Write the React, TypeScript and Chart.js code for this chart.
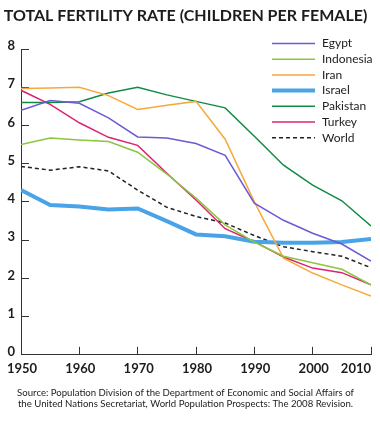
import { useEffect, useRef } from "react";
import { Chart, registerables } from "chart.js";

Chart.register(...registerables);

const years = [1950, 1955, 1960, 1965, 1970, 1975, 1980, 1985, 1990, 1995, 2000, 2005, 2010];
const xTickYears = [1950, 1960, 1970, 1980, 1990, 2000, 2010];

const egypt = [6.4, 6.65, 6.58, 6.2, 5.7, 5.67, 5.53, 5.22, 3.97, 3.52, 3.18, 2.9, 2.45];
const indonesia = [5.5, 5.67, 5.62, 5.58, 5.3, 4.73, 4.1, 3.4, 2.95, 2.58, 2.41, 2.24, 1.83];
const iran = [6.97, 6.98, 7.0, 6.78, 6.42, 6.53, 6.63, 5.64, 4.0, 2.53, 2.14, 1.83, 1.54];
const israel = [4.31, 3.92, 3.88, 3.8, 3.83, 3.5, 3.15, 3.1, 2.96, 2.93, 2.93, 2.95, 3.03];
const pakistan = [6.6, 6.6, 6.62, 6.85, 7.0, 6.8, 6.63, 6.46, 5.72, 4.96, 4.44, 4.03, 3.37];
const turkey = [6.92, 6.55, 6.07, 5.69, 5.48, 4.75, 4.05, 3.3, 2.96, 2.56, 2.27, 2.15, 1.83];
const world = [4.93, 4.83, 4.92, 4.81, 4.31, 3.86, 3.62, 3.45, 3.12, 2.83, 2.7, 2.58, 2.28];

const titleText = "TOTAL FERTILITY RATE (CHILDREN PER FEMALE)";
const sourceLines = [
  "Source: Population Division of the Department of Economic and Social Affairs of",
  "the United Nations Secretariat, World Population Prospects: The 2008 Revision.",
];

const FONT = "Lato, 'Open Sans', sans-serif";
const INK = "#1c1c1c";

export default function App() {
  const ref = useRef<HTMLCanvasElement>(null);

  useEffect(() => {
    if (!ref.current) return;
    const series = [
      { label: "Egypt", values: egypt, color: "#6a5ad3", width: 1.5, dash: [] as number[] },
      { label: "Indonesia", values: indonesia, color: "#8cc53f", width: 1.5, dash: [] },
      { label: "Iran", values: iran, color: "#f6a93b", width: 1.5, dash: [] },
      { label: "Israel", values: israel, color: "#48a4e6", width: 4, dash: [] },
      { label: "Pakistan", values: pakistan, color: "#0f8b45", width: 1.5, dash: [] },
      { label: "Turkey", values: turkey, color: "#dc2372", width: 1.5, dash: [] },
      { label: "World", values: world, color: "#222222", width: 1.5, dash: [4, 3] },
    ];

    const insetLegend = {
      id: "insetLegend",
      afterDraw(chart: any) {
        const ctx = chart.ctx;
        const x0 = 272, x1 = 315, tx = 322, y0 = 43.5, dy = 15.7;
        ctx.save();
        chart.data.datasets.forEach((ds: any, i: number) => {
          const y = y0 + i * dy;
          ctx.beginPath();
          ctx.strokeStyle = ds.borderColor;
          ctx.lineWidth = ds.borderWidth;
          ctx.setLineDash(ds.borderDash || []);
          ctx.moveTo(x0, y);
          ctx.lineTo(x1, y);
          ctx.stroke();
          ctx.setLineDash([]);
          ctx.fillStyle = INK;
          ctx.font = `12px ${FONT}`;
          ctx.textAlign = "left";
          ctx.textBaseline = "middle";
          ctx.fillText(ds.label, tx, y);
        });
        ctx.restore();
      },
    };

    const xLabels = {
      id: "xLabels",
      afterDraw(chart: any) {
        const sx = chart.scales.x;
        const ctx = chart.ctx;
        ctx.save();
        ctx.font = `bold 13px ${FONT}`;
        ctx.fillStyle = INK;
        ctx.textBaseline = "middle";
        xTickYears.forEach((yr, i) => {
          const px = sx.getPixelForValue(yr);
          const last = i === xTickYears.length - 1;
          ctx.textAlign = last ? "right" : "center";
          ctx.fillText(String(yr), last ? px : px + 1, sx.top + 14);
        });
        ctx.restore();
      },
    };

    const axisGrid = {
      display: true,
      drawOnChartArea: false,
      drawTicks: true,
      tickLength: -8,
      color: "#333",
      lineWidth: 1,
    };

    const chart = new Chart(ref.current, {
      type: "line",
      data: {
        datasets: series.map((s) => ({
          label: s.label,
          data: years.map((yr, i) => ({ x: yr, y: s.values[i] })),
          borderColor: s.color,
          backgroundColor: s.color,
          borderWidth: s.width,
          borderDash: s.dash,
          pointRadius: 0,
          tension: 0,
          fill: false,
        })),
      },
      options: {
        animation: false,
        responsive: false,
        maintainAspectRatio: false,
        layout: { padding: { left: 0, right: 9, top: 0, bottom: 0 } },
        plugins: {
          legend: { display: false },
          tooltip: { enabled: false },
          title: {
            display: true,
            text: titleText,
            color: INK,
            font: { family: FONT, size: 16, weight: "bold", lineHeight: 1.2 },
            padding: { top: 6, bottom: 23.8 },
          },
          subtitle: {
            display: true,
            position: "bottom",
            text: sourceLines,
            color: INK,
            font: { family: FONT, size: 9.6, lineHeight: 1.1 },
            padding: { top: 3, bottom: 31 },
          },
        },
        scales: {
          x: {
            type: "linear",
            min: 1950,
            max: 2010,
            ticks: { stepSize: 10, display: false },
            grid: axisGrid,
            border: { display: true, color: "#333", width: 1 },
            afterFit: (s: any) => {
              s.height = 30;
              s.paddingLeft = 0;
              s.paddingRight = 0;
            },
          },
          y: {
            min: 0,
            max: 8,
            ticks: {
              stepSize: 1,
              padding: 14,
              labelOffset: -3,
              color: INK,
              font: { family: FONT, size: 13, weight: "bold" },
            },
            grid: axisGrid,
            border: { display: true, color: "#333", width: 1 },
            afterFit: (s: any) => {
              s.width = 21;
              s.paddingTop = 0;
              s.paddingBottom = 0;
            },
          },
        },
      },
      plugins: [insetLegend, xLabels],
    } as any);

    return () => chart.destroy();
  }, []);

  return (
    <div style={{ position: "fixed", left: 0, top: 0, width: 380, height: 440, background: "#fff" }}>
      <canvas ref={ref} width={380} height={440} style={{ display: "block" }} />
    </div>
  );
}
